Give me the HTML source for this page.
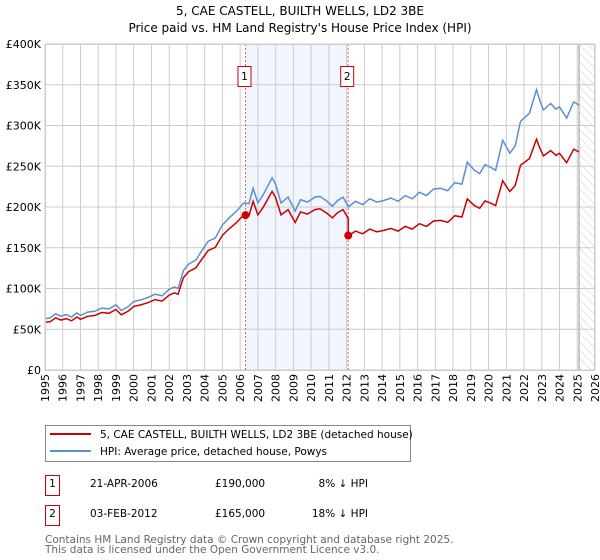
<!DOCTYPE html>
<html><head><meta charset="utf-8"><style>
body{margin:0;background:#fff;font-family:"DejaVu Sans","Liberation Sans",sans-serif;}
svg{display:block}
</style></head><body>
<svg id="chart" width="600" height="560" xmlns="http://www.w3.org/2000/svg" font-family="DejaVu Sans, Liberation Sans, sans-serif">
<text x="300" y="15" text-anchor="middle" font-size="12">5, CAE CASTELL, BUILTH WELLS, LD2 3BE</text>
<text x="300" y="32" text-anchor="middle" font-size="12">Price paid vs. HM Land Registry's House Price Index (HPI)</text>
<g id="plot"></g>
<g>
<rect x="45.5" y="425.5" width="365" height="36" fill="#fff" stroke="#888"/>
<line x1="50" y1="434" x2="91" y2="434" stroke="#cc0000" stroke-width="2"/>
<text x="100" y="438" font-size="10.5">5, CAE CASTELL, BUILTH WELLS, LD2 3BE (detached house)</text>
<line x1="50" y1="451" x2="91" y2="451" stroke="#5b8fd4" stroke-width="2"/>
<text x="100" y="455" font-size="10.5">HPI: Average price, detached house, Powys</text>
</g>
<g font-size="10.5">
<rect x="45.5" y="475.5" width="14" height="20" fill="#fff" stroke="#cc0000"/>
<text x="52.5" y="487" text-anchor="middle">1</text>
<text x="90" y="487">21-APR-2006</text>
<text x="215" y="487">£190,000</text>
<text x="368" y="487" text-anchor="end">8% ↓ HPI</text>
<rect x="45.5" y="505.5" width="14" height="20" fill="#fff" stroke="#cc0000"/>
<text x="52.5" y="517" text-anchor="middle">2</text>
<text x="90" y="517">03-FEB-2012</text>
<text x="215" y="517">£165,000</text>
<text x="368" y="517" text-anchor="end">18% ↓ HPI</text>
</g>
<text x="45" y="543" font-size="10.5" fill="#666">Contains HM Land Registry data © Crown copyright and database right 2025.</text>
<text x="45" y="553" font-size="10.5" fill="#666">This data is licensed under the Open Government Licence v3.0.</text>
</svg>
<script>
const hpiDates=[1995,1995.3,1995.6,1995.9,1996.2,1996.5,1996.8,1997.0,1997.4,1997.8,1998.2,1998.6,1999.0,1999.3,1999.7,2000.0,2000.4,2000.8,2001.2,2001.6,2002.0,2002.3,2002.5,2002.8,2003.1,2003.5,2003.8,2004.2,2004.6,2005.0,2005.4,2005.8,2006.2,2006.5,2006.73,2007.0,2007.3,2007.8,2008.0,2008.3,2008.7,2009.1,2009.4,2009.8,2010.2,2010.5,2010.9,2011.2,2011.5,2011.8,2012.1,2012.5,2012.9,2013.3,2013.7,2014.1,2014.5,2014.9,2015.3,2015.7,2016.1,2016.5,2016.9,2017.3,2017.7,2018.1,2018.5,2018.8,2019.2,2019.5,2019.8,2020.1,2020.4,2020.8,2021.2,2021.5,2021.8,2022.3,2022.7,2022.9,2023.1,2023.5,2023.8,2024.0,2024.4,2024.8,2025.1];
const hpiValues=[63,64,69,66,68,65,70,67,71,72,76,75,80,73,78,84,86,89,93,91,99,102,100,122,130,135,145,158,162,178,187,195,205,204,223,205,215,236,228,205,212,195,209,206,212,213,207,201,208,212,200,207,203,210,206,208,211,207,214,210,218,214,222,223,220,230,228,255,245,241,252,249,245,282,266,275,305,315,344,330,319,327,320,323,309,329,325];
const years=[1995,1996,1997,1998,1999,2000,2001,2002,2003,2004,2005,2006,2007,2008,2009,2010,2011,2012,2013,2014,2015,2016,2017,2018,2019,2020,2021,2022,2023,2024,2025,2026];
const yTicks=[0,50,100,150,200,250,300,350,400];
const yTickLabels=["£0","£50K","£100K","£150K","£200K","£250K","£300K","£350K","£400K"];
const saleDates=[2006.3,2012.09];
const salePrices=[190,165];
const saleLabels=["1","2"];
const dataEnd=2025.1;

const X0=45,X1=595,Y0=370,Y1=44;
const xs=t=>X0+(t-1995)/(2026-1995)*(X1-X0);
const ys=v=>Y0-v/400*(Y0-Y1);
const NS="http://www.w3.org/2000/svg";
const plot=document.getElementById('plot');
function mk(tag,attrs,parent){const e=document.createElementNS(NS,tag);for(const k in attrs)e.setAttribute(k,attrs[k]);(parent||plot).appendChild(e);return e;}
function hpiAt(t){for(let i=1;i<hpiDates.length;i++){if(t<=hpiDates[i]){const f=(t-hpiDates[i-1])/(hpiDates[i]-hpiDates[i-1]);return hpiValues[i-1]+f*(hpiValues[i]-hpiValues[i-1]);}}return hpiValues[hpiValues.length-1];}

let e=mk('rect',{x:xs(saleDates[0]),y:Y1,width:xs(saleDates[1])-xs(saleDates[0]),height:Y0-Y1,fill:'#eef3fc',opacity:0.8});


const defs=mk('defs',{});
const pat=mk('pattern',{id:'hatch',width:6,height:6,patternUnits:'userSpaceOnUse',patternTransform:'rotate(-45)'},defs);
mk('line',{x1:0,y1:0,x2:0,y2:6,stroke:'#ccc','stroke-width':1},pat);
e=mk('rect',{x:xs(dataEnd),y:Y1,width:X1-xs(dataEnd),height:Y0-Y1,fill:'url(#hatch)'});



years.forEach(y=>{const l=mk('line',{x1:xs(y),y1:Y1,x2:xs(y),y2:Y0,stroke:'#ccc','stroke-width':1});


const t=mk('text',{x:0,y:0,'font-size':11,'text-anchor':'end',transform:`translate(${xs(y)+4},${Y0+4}) rotate(-90)`});t.textContent=y;

});
yTicks.forEach((v,i)=>{const l=mk('line',{x1:X0,y1:ys(v),x2:X1,y2:ys(v),stroke:'#ccc','stroke-width':1});


const t=mk('text',{x:X0-4,y:ys(v)+4,'font-size':11,'text-anchor':'end'});t.textContent=yTickLabels[i];

});
e=mk('line',{x1:xs(dataEnd),y1:Y1,x2:xs(dataEnd),y2:Y0,stroke:'#999','stroke-width':1});



saleDates.forEach((d,i)=>{const l=mk('line',{x1:xs(d),y1:Y1,x2:xs(d),y2:Y0,stroke:'#f06060','stroke-width':1,'stroke-dasharray':'2,2'});


const r=mk('rect',{x:xs(d)-7.5,y:66.5,width:13,height:20,fill:'#fff',stroke:'#cc0000'});


const t=mk('text',{x:xs(d)-1,y:80,'font-size':10.5,'text-anchor':'middle'});t.textContent=saleLabels[i];

});

let hp='';hpiDates.forEach((d,i)=>{hp+=(i?'L':'M')+xs(d).toFixed(1)+','+ys(hpiValues[i]).toFixed(1);});
e=mk('path',{d:hp,fill:'none',stroke:'#5b8fd4','stroke-width':1.5});



const r0=salePrices[0]/hpiAt(saleDates[0]),r1=salePrices[1]/hpiAt(saleDates[1]);
let rp='';let first=true;
hpiDates.forEach((d,i)=>{if(d>=saleDates[1]&&!first&&rp.indexOf('S')<0){}
});
const pts=[];
hpiDates.forEach((d,i)=>{if(d<saleDates[1])pts.push([d,hpiValues[i]*r0]);});
pts.push([saleDates[1],hpiAt(saleDates[1])*r0]);
pts.push([saleDates[1],salePrices[1]]);
hpiDates.forEach((d,i)=>{if(d>saleDates[1])pts.push([d,hpiValues[i]*r1]);});
pts.forEach((p,i)=>{rp+=(i?'L':'M')+xs(p[0]).toFixed(1)+','+ys(p[1]).toFixed(1);});
e=mk('path',{d:rp,fill:'none',stroke:'#cc0000','stroke-width':1.5});


saleDates.forEach((d,i)=>{const c=mk('circle',{cx:xs(d),cy:ys(salePrices[i]),r:4,fill:'#cc0000'});

});
e=mk('rect',{x:X0+0.5,y:Y1+0.5,width:X1-X0-1,height:Y0-Y1,fill:'none',stroke:'#ccc'});


</script>
</body></html>
